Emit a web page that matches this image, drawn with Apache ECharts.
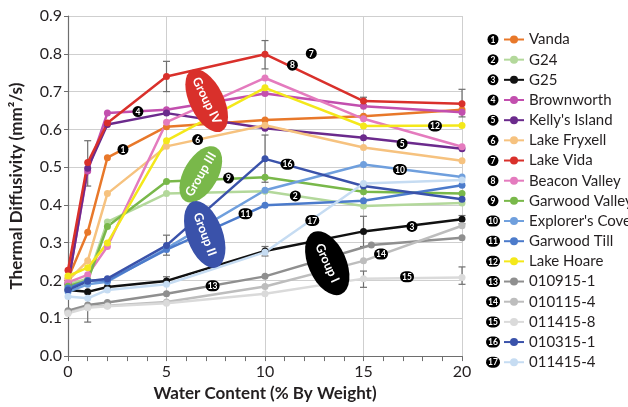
<!DOCTYPE html>
<html>
<head>
<meta charset="utf-8">
<script src="https://cdn.jsdelivr.net/npm/echarts@6/dist/echarts.min.js"></script>
<style>
  html, body { margin: 0; padding: 0; background: #fff; }
  #chart { width: 628px; height: 407px; }
</style>
</head>
<body>
<div id="chart"></div>
<script>
// Water content (% by weight) at which each soil was measured
const waterContent = [0, 1, 2, 5, 10, 15, 20];
const waterContent010915 = [0, 1, 2, 5, 10, 15.4, 20];

// Thermal diffusivity (mm²/s) per soil
const vanda          = [0.205, 0.328, 0.525, 0.607, 0.625, 0.635, 0.652];
const g24            = [0.190, 0.205, 0.355, 0.430, 0.436, 0.397, 0.405];
const g25            = [0.175, 0.170, 0.183, 0.199, 0.278, 0.330, 0.362];
const brownworth     = [0.195, 0.490, 0.643, 0.652, 0.695, 0.661, 0.645];
const kellysIsland   = [0.190, 0.497, 0.613, 0.643, 0.603, 0.578, 0.549];
const lakeFryxell    = [0.200, 0.252, 0.430, 0.555, 0.611, 0.552, 0.517];
const lakeVida       = [0.227, 0.512, 0.617, 0.740, 0.799, 0.675, 0.668];
const beaconValley   = [0.195, 0.215, 0.290, 0.619, 0.736, 0.628, 0.554];
const garwoodValley  = [0.185, 0.200, 0.343, 0.462, 0.473, 0.435, 0.430];
const explorersCove  = [0.170, 0.190, 0.197, 0.285, 0.439, 0.507, 0.474];
const garwoodTill    = [0.180, 0.200, 0.200, 0.282, 0.399, 0.411, 0.452];
const lakeHoare      = [0.212, 0.234, 0.299, 0.570, 0.710, 0.609, 0.610];
const s010915_1      = [0.120, 0.135, 0.142, 0.165, 0.211, 0.294, 0.313];
const s010115_4      = [0.115, 0.130, 0.133, 0.143, 0.184, 0.252, 0.345];
const s011415_8      = [0.113, 0.128, 0.132, 0.140, 0.165, 0.205, 0.208];
const s010315_1      = [0.175, 0.198, 0.205, 0.293, 0.522, 0.450, 0.415];
const s011415_4      = [0.158, 0.153, 0.175, 0.190, 0.275, 0.457, 0.466];

const seriesNames = ['Vanda', 'G24', 'G25', 'Brownworth', "Kelly's Island", 'Lake Fryxell',
  'Lake Vida', 'Beacon Valley', 'Garwood Valley', "Explorer's Cove", 'Garwood Till',
  'Lake Hoare', '010915-1', '010115-4', '011415-8', '010315-1', '011415-4'];
const seriesValues = [vanda, g24, g25, brownworth, kellysIsland, lakeFryxell, lakeVida,
  beaconValley, garwoodValley, explorersCove, garwoodTill, lakeHoare, s010915_1,
  s010115_4, s011415_8, s010315_1, s011415_4];
const seriesX = seriesNames.map(n => n === '010915-1' ? waterContent010915 : waterContent);
const seriesColors = ['#E8782A', '#B3D89B', '#111111', '#C24FAE', '#6B2A8C', '#F6C27F',
  '#D9302B', '#E47BBE', '#79B84A', '#6F9FDD', '#4C7BCB', '#F4E81A', '#8F8F8F',
  '#BDBDBD', '#DADADA', '#3A52AA', '#C6DCF2'];

// Error bars: [water content, low, high]
const errorBars = [
  [1, 0.45, 0.57], [5, 0.70, 0.78], [10, 0.76, 0.835], [15, 0.665, 0.685], [20, 0.633, 0.706],
  [5, 0.19, 0.21], [10, 0.265, 0.29], [15, 0.29, 0.37], [20, 0.35, 0.372],
  [5, 0.267, 0.32], [10, 0.46, 0.585], [1, 0.09, 0.165],
  [15, 0.182, 0.225], [20, 0.19, 0.236]
];

// Numbered markers placed along the curves: [water content, diffusivity, number]
const curveTags = [
  [2.79, 0.547, 1], [11.54, 0.424, 2], [17.46, 0.343, 3], [3.55, 0.647, 4],
  [16.96, 0.562, 5], [6.58, 0.573, 6], [12.35, 0.801, 7], [11.39, 0.770, 8],
  [8.15, 0.471, 9], [16.85, 0.494, 10], [9.01, 0.377, 11], [18.63, 0.609, 12],
  [7.34, 0.186, 13], [15.89, 0.270, 14], [17.21, 0.210, 15], [11.14, 0.508, 16],
  [12.40, 0.359, 17]
];

// Group ovals: [water content, diffusivity, label, colour, rotation (deg, + = anticlockwise), semi-major, semi-minor]
const groupOvals = [
  [7.04, 0.676, 'Group IV', '#D9302B', -64, 34, 17],
  [6.74, 0.481, 'Group III', '#79B84A', 60, 31, 17],
  [6.94, 0.322, 'Group II', '#3A52AA', -70, 35, 18],
  [13.16, 0.246, 'Group I', '#000000', -66, 34, 19]
];

const FONT = 'Lato, "Liberation Sans", sans-serif';
const TEXT = '#231F20';

function tagShape(cx, cy, n, fs) {
  const w = n >= 10 ? 14 : 11;
  const h = 11;
  return {
    type: 'group',
    children: [
      { type: 'rect', shape: { x: cx - w / 2, y: cy - h / 2, width: w, height: h, r: h / 2 },
        style: { fill: '#000' } },
      { type: 'text', x: cx, y: cy + 0.5,
        style: { text: String(n), fill: '#fff', font: 'bold ' + fs + 'px ' + FONT,
          align: 'center', verticalAlign: 'middle' } }
    ]
  };
}

const lineSeries = seriesNames.map((name, i) => ({
  name: name,
  type: 'line',
  data: seriesValues[i].map((v, j) => [seriesX[i][j], v]),
  symbol: 'circle',
  symbolSize: 7,
  color: seriesColors[i],
  lineStyle: { width: 2.5, color: seriesColors[i] },
  itemStyle: { color: seriesColors[i] },
  z: 3,
  animation: false
}));

const errorSeries = {
  type: 'custom',
  name: 'errors',
  data: errorBars,
  z: 2,
  silent: true,
  animation: false,
  renderItem: function (params, api) {
    const top = api.coord([api.value(0), api.value(2)]);
    const bot = api.coord([api.value(0), api.value(1)]);
    const st = { stroke: '#6E6E6E', lineWidth: 1.2 };
    return {
      type: 'group',
      children: [
        { type: 'line', shape: { x1: top[0], y1: top[1], x2: bot[0], y2: bot[1] }, style: st },
        { type: 'line', shape: { x1: top[0] - 3.5, y1: top[1], x2: top[0] + 3.5, y2: top[1] }, style: st },
        { type: 'line', shape: { x1: bot[0] - 3.5, y1: bot[1], x2: bot[0] + 3.5, y2: bot[1] }, style: st }
      ]
    };
  }
};

const tagSeries = {
  type: 'custom',
  name: 'tags',
  data: curveTags,
  z: 6,
  silent: true,
  animation: false,
  renderItem: function (params, api) {
    const p = api.coord([api.value(0), api.value(1)]);
    return tagShape(p[0], p[1], api.value(2), 8.5);
  }
};

const groupSeries = {
  type: 'custom',
  name: 'groups',
  data: groupOvals.map(g => [g[0], g[1]]),
  z: 7,
  silent: true,
  animation: false,
  renderItem: function (params, api) {
    const g = groupOvals[params.dataIndex];
    const p = api.coord([api.value(0), api.value(1)]);
    return {
      type: 'group',
      x: p[0], y: p[1],
      rotation: g[4] * Math.PI / 180,
      children: [
        { type: 'circle', shape: { cx: 0, cy: 0, r: g[6] }, scaleX: g[5] / g[6], scaleY: 1,
          style: { fill: g[3] } },
        { type: 'text', x: 0, y: 0,
          style: { text: g[2], fill: '#fff', font: 'bold 12.5px ' + FONT,
            align: 'center', verticalAlign: 'middle' } }
      ]
    };
  }
};

// Legend layout
const legendTop = 32;
const legendStep = 20.17;
const legendLineH = 15;
const legendTags = seriesNames.map((n, i) =>
  tagShape(493, legendTop + legendLineH / 2 + i * legendStep, i + 1, 8.5));

const chart = echarts.init(document.getElementById('chart'), null, { renderer: 'canvas' });
chart.setOption({
  animation: false,
  backgroundColor: '#fff',
  grid: { left: 67, right: 166, top: 16, bottom: 47, containLabel: false },
  xAxis: {
    type: 'value',
    min: 0, max: 20, interval: 5,
    name: 'Water Content (% By Weight)',
    nameLocation: 'middle',
    nameGap: 25,
    nameTextStyle: { fontFamily: FONT, fontWeight: 'bold', fontSize: 17, color: TEXT },
    axisLine: { show: true, lineStyle: { color: '#6E6E6E', width: 1.2 } },
    axisTick: { show: true, length: 5, lineStyle: { color: '#6E6E6E' } },
    minorTick: { show: true, splitNumber: 5, length: 5, lineStyle: { color: '#6E6E6E' } },
    axisLabel: { fontFamily: FONT, fontSize: 16, color: TEXT, margin: 8 },
    splitLine: { show: true, lineStyle: { color: '#CFCFCF', width: 1 } }
  },
  yAxis: {
    type: 'value',
    min: 0, max: 0.9, interval: 0.1,
    name: 'Thermal Diffusivity (mm²/s)',
    nameLocation: 'middle',
    nameGap: 43,
    nameTextStyle: { fontFamily: FONT, fontWeight: 'bold', fontSize: 17, color: TEXT },
    axisLine: { show: true, lineStyle: { color: '#6E6E6E', width: 1.2 } },
    axisTick: { show: true, length: 4, lineStyle: { color: '#6E6E6E' } },
    axisLabel: { fontFamily: FONT, fontSize: 16, color: TEXT, margin: 6,
      formatter: v => v.toFixed(1) },
    splitLine: { show: true, lineStyle: { color: '#CFCFCF', width: 1 } }
  },
  legend: {
    data: seriesNames,
    orient: 'vertical',
    left: 503,
    top: legendTop,
    itemWidth: 20,
    itemHeight: 10,
    itemGap: legendStep - legendLineH,
    padding: 0,
    selectedMode: false,
    textStyle: { fontFamily: FONT, fontSize: 15, color: TEXT, lineHeight: legendLineH }
  },
  graphic: legendTags,
  series: [errorSeries].concat(lineSeries, [tagSeries, groupSeries])
});
</script>
</body>
</html>
